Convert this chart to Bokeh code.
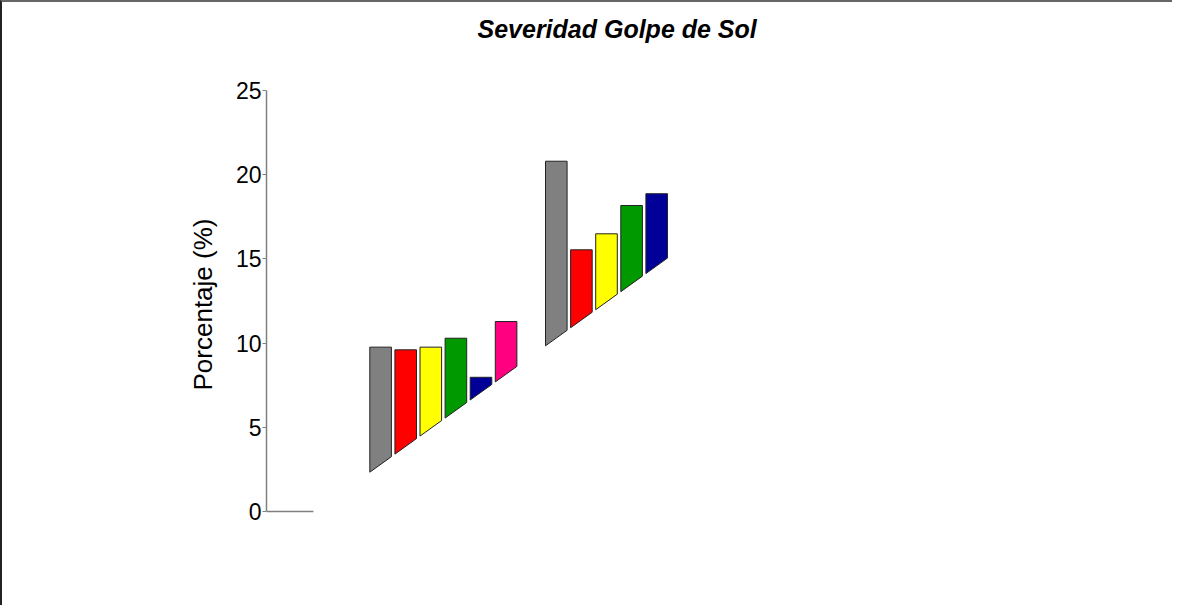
from bokeh.plotting import figure
from bokeh.models import Range1d, FixedTicker
from bokeh.embed import file_html
from bokeh.resources import INLINE

# ---- data ----
group1_values = [9.76, 9.60, 9.76, 10.29, 7.97, 11.28]
group2_values = [20.80, 15.54, 16.49, 18.17, 18.87]
group1_colors = ["#808080", "#FF0000", "#FFFF00", "#009900", "#000099", "#FF0080"]
group2_colors = ["#808080", "#FF0000", "#FFFF00", "#009900", "#000099"]
y_ticks = [0, 5, 10, 15, 20, 25]

# ---- layout parameters ----
group_gap_slots = 7          # slot index where second group starts
bar_w = 0.86                 # bar width in slot units
base0 = 2.795                # sloped floor: base(x) = base0 + base_slope * x
base_slope = 1.072
x_start, x_end = -4.546, 31.63
y_start, y_end = -2.969, 27.553

p = figure(width=1172, height=605, output_backend="svg", toolbar_location=None,
           x_range=Range1d(x_start, x_end), y_range=Range1d(y_start, y_end),
           x_axis_location=None, min_border_left=264, min_border_right=0,
           min_border_top=45, min_border_bottom=46)
p.outline_line_color = None
p.grid.visible = False
p.background_fill_color = "white"
p.border_fill_color = "white"

xs, ys, cols = [], [], []
for offset, vals, colors in ((0, group1_values, group1_colors),
                             (group_gap_slots, group2_values, group2_colors)):
    for i, (v, c) in enumerate(zip(vals, colors)):
        xc = offset + i
        xl, xr = xc - bar_w / 2, xc + bar_w / 2
        xs.append([xl, xr, xr, xl])
        ys.append([v, v, base0 + base_slope * xr, base0 + base_slope * xl])
        cols.append(c)

p.patches(xs, ys, fill_color=cols, line_color="#222222", line_width=1)

# floor line at zero
p.segment(x0=[x_start], y0=[0], x1=[x_start + 1.87], y1=[0],
          line_color="#808080", line_width=1.5)

yax = p.yaxis[0]
yax.ticker = FixedTicker(ticks=y_ticks)
yax.bounds = (y_ticks[0], y_ticks[-1])
yax.axis_line_color = "#808080"
yax.axis_line_width = 1.5
yax.major_tick_line_color = "#808080"
yax.major_tick_in = 0
yax.major_tick_out = 4
yax.minor_tick_line_color = None
yax.major_label_text_font = "Liberation Sans"
yax.major_label_text_font_size = "23px"
yax.major_label_text_color = "black"
yax.major_label_standoff = 1
yax.axis_label = "Porcentaje (%)"
yax.axis_label_text_font = "Liberation Sans"
yax.axis_label_text_font_size = "26px"
yax.axis_label_text_font_style = "normal"
yax.axis_label_text_color = "black"
yax.axis_label_standoff = 15

p.title.text = "Severidad Golpe de Sol"
p.title.align = "left"
p.title.offset = 211
p.title.text_font = "Liberation Sans"
p.title.text_font_size = "25px"
p.title.text_font_style = "bold italic"
p.title.text_color = "black"

p.styles = {"border-top": "2px solid #666666", "border-left": "2px solid #222222"}

open("out.html", "w").write(file_html(p, INLINE))
